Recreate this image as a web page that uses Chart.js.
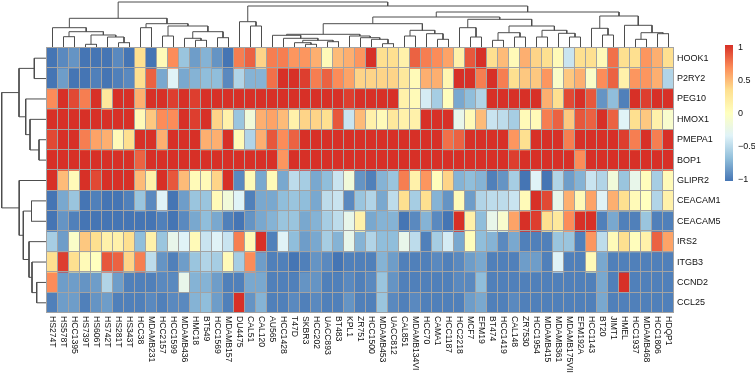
<!DOCTYPE html>
<html>
<head>
<meta charset="utf-8">
<script src="https://cdn.jsdelivr.net/npm/chart.js@4.4.1/dist/chart.umd.min.js"></script>
<style>
html,body{margin:0;padding:0;background:#ffffff;}
canvas{display:block;}
</style>
</head>
<body>
<canvas id="c" width="755" height="373"></canvas>
<script>
// ---------- DATA ----------
const genes = ['HOOK1','P2RY2','PEG10','HMOX1','PMEPA1','BOP1','GLIPR2','CEACAM1','CEACAM5','IRS2','ITGB3','CCND2','CCL25'];
const cellLines = ['HS274T','HS578T','HCC1395','HS739T','HS606T','HS742T','HS281T','HS343T','HCC38','MDAMB231',
  'HCC2157','HCC1599','MDAMB436','HMC18','BT549','HCC1569','MDAMB157','DU4475','CAL51','CAL120',
  'AU565','HCC1428','T47D','SKBR3','HCC202','UACC893','BT483','KPL1','ZR751','HCC1500',
  'MDAMB453','UACC812','CAL851','MDAMB134VI','HCC70','CAMA1','HCC1187','HCC2218','MCF7','EFM19',
  'BT474','HCC1419','CAL148','ZR7530','HCC1954','MDAMB415','MDAMB361','MDAMB175VII','EFM192A','HCC1143',
  'BT20','JIMT1','HMEL','HCC1937','MDAMB468','HCC1806','HDQP1'];
const HOOK1 = [-1,-0.91,-0.86,-1,-1,-1,-0.91,-1,0.33,-1, 0.05,0.67,-0.63,-0.82,-0.72,-0.86,-1,0.72,0.82,0.38,
  0.72,0.72,0.63,0.63,0.53,0.05,0.48,0.53,0.63,1, 0.33,0.33,0.15,0.82,0.72,0.67,0.58,0.15,0.86,1,
  0.33,0.48,0.05,0.53,0.38,0.33,0.05,-0.43,0.33,0.33, 0.05,0.77,0.33,0.33,0.63,0.53,0.33];
const P2RY2 = [-1,-0.82,-1,-1,-0.95,-1,-0.95,-0.91,0.33,0.82, -0.77,-0.33,-0.77,-0.72,-0.67,-0.67,-0.91,-0.53,-0.72,-0.72,
  0.77,1,1,0.95,0.72,0.82,0.67,0.58,0.38,0.38, 0.38,0.38,0.25,0.05,0.53,0.53,0.1,1,1,0.72,
  1,0.72,0.33,0.43,0.43,0.63,-0.05,0.43,0.53,-0.05, 0.67,0.82,0.15,0.63,0.63,0.53,-0.53];
const PEG10 = [0.67,1,0.91,0.72,1,0.25,1,1,0.53,1, 1,0.95,1,0.95,1,1,1,1,1,1,
  1,1,1,1,1,1,1,0.95,1,1, 1,1,0.15,0.05,-0.38,-0.58,0.02,-0.77,-0.67,-0.53,
  1,1,1,1,1,0.53,0.33,0.91,1,0.86, -0.86,-0.67,-0.95,1,0.95,1,1];
const HMOX1 = [1,1,1,1,1,1,1,1,0.05,0.43, 0.67,0.67,1,0.95,1,0.38,0.15,-0.63,-0.15,0.53,
  0.58,0.48,0.15,0.38,0.38,0.33,0.86,-0.43,0.48,0.15, 0.05,0.25,0.15,0.15,1,1,1,-0.25,0.05,0.48,
  -0.43,-0.48,-0.58,0.05,0.05,0.72,0.82,0.43,0.86,0.82, 1,0.82,-0.33,0.33,0.43,0.15,-0.08];
const PMEPA1 = [0.91,1,1,0.72,0.58,0.53,0.05,0.33,1,1, 0.53,1,1,1,0.53,0.53,1,0.05,-0.53,0.53,
  0.86,0.67,0.82,1,1,1,1,1,1,1, 1,1,1,1,1,1,0.77,0.82,1,1,
  1,1,0.63,0.33,1,1,1,0.72,1,1, 1,1,0.95,0.72,1,0.72,1];
const BOP1 = [1,1,1,1,1,1,1,1,0.82,1, 1,1,1,1,1,1,1,1,1,1,
  1,0.63,1,1,1,1,1,1,1,1, 1,1,1,1,1,1,1,1,1,1,
  1,1,0.95,1,1,1,1,1,0.67,1, 1,1,1,1,1,1,1];
const GLIPR2 = [1,0.48,0.05,1,0.91,1,1,1,0.48,0.15, 1,0.86,0.48,0.05,0.05,0.38,1,-0.91,0.05,-0.77,
  0.05,-0.77,-0.48,-0.58,-0.77,-0.67,-0.43,-0.15,-0.86,-0.95, -0.72,-0.63,0.72,0.15,0.63,0.02,0.38,-0.72,-0.67,-0.72,
  -0.95,-0.86,-0.58,-1,-0.33,-1,-0.53,-0.82,-0.72,-0.43, -0.53,-0.15,-0.63,-0.25,0.02,-0.58,0.05];
const CEACAM1 = [-1,-0.77,-0.63,-1,-0.95,-1,-1,-0.95,-0.63,-0.91, -0.33,-1,-0.82,-0.63,-0.63,0.05,-0.15,-0.33,-0.95,-0.77,
  -0.77,-0.67,-0.63,-0.67,-0.77,-0.48,-0.43,-0.91,-0.63,-0.53, -0.77,-0.48,0.33,-0.58,0.33,-0.72,-0.86,0.05,-0.82,-0.53,
  -0.48,-0.48,-0.43,0.05,1,0.91,-0.25,0.53,0.05,0.58, -0.33,0.53,0.33,0.05,0,-0.53,0.15];
const CEACAM5 = [-1,-0.86,-0.95,-1,-1,-1,-1,-1,-1,-1, -0.95,-1,-0.91,-0.77,-0.67,-0.77,-0.95,-1,-0.86,-0.77,
  -0.72,-0.63,-0.63,-0.77,-0.72,-0.58,-0.48,-0.25,0.15,-0.77, -0.72,-0.72,-1,-0.91,-0.72,-0.91,-1,1,0.15,-0.67,
  -0.25,-0.08,0.58,1,0.95,0.33,0.25,0.67,1,1, -0.95,-0.77,-0.95,-0.95,-0.63,-0.95,-0.95];
const IRS2 = [-0.58,-0.82,-0.05,0.43,0.33,0.15,0.15,0.33,-0.67,0.15, -0.63,-0.25,-0.33,0.05,-0.43,-0.33,-0.43,0.72,0.05,1,
  -0.95,-0.33,-0.67,-0.82,-0.77,-0.58,-0.72,-0.25,-0.72,-0.53, -0.67,-0.67,-0.25,-0.48,-0.95,-0.58,-0.38,-0.77,0.02,-0.67,
  -0.72,-0.91,-0.77,-0.95,-0.95,-0.95,-0.63,-0.63,-0.95,0.63, -0.48,0.05,0.33,0.02,0.15,0.82,0.58];
const ITGB3 = [0.33,0.95,0.33,0.05,0,0.86,0.82,0.38,0.72,-0.48, -0.86,-0.95,-0.82,-0.63,-0.53,-0.58,0.05,-0.58,0.67,-0.82,
  -0.95,-0.95,-1,-0.95,-0.86,-0.91,-1,-0.95,-0.95,-0.95, -0.72,-0.82,-0.95,-0.95,-0.95,-0.91,-0.95,-0.91,-0.82,-0.77,
  -0.95,-0.95,-0.95,-0.82,-0.82,-0.95,-0.33,-0.95,-0.95,0.05, -0.77,-0.95,-0.95,-0.95,-0.95,-0.95,-0.95];
const CCND2 = [0.67,-0.82,-0.82,-0.86,-0.82,-0.53,-0.82,-0.95,-0.95,-0.95, -0.91,-0.91,-0.25,-0.72,-0.72,-0.82,-0.95,-0.95,-0.77,-0.77,
  -0.95,-0.95,-0.95,-0.86,-0.86,-0.95,-0.95,-0.91,-0.95,-0.91, -0.63,-0.86,-0.95,-0.95,-0.95,-0.95,-0.95,-0.91,-0.91,-0.67,
  -0.95,-0.95,-0.95,-0.95,-0.95,-0.95,-0.95,-0.95,-0.95,-0.95, -0.77,-0.95,1,-0.95,-0.95,-0.95,-0.95];
const CCL25 = [-0.95,-0.82,-0.82,-0.95,-0.86,-0.82,-0.95,-0.95,-0.95,-0.91, -0.95,-0.91,-0.91,-0.72,-0.67,-0.82,-0.95,1,-0.86,-0.72,
  -0.95,-0.95,-0.91,-0.95,-0.91,-0.95,-0.95,-0.86,-0.95,-0.95, -0.63,-0.91,-0.95,-0.91,-0.95,-0.95,-0.95,-0.95,-0.82,-0.77,
  -0.95,-0.95,-0.91,-0.95,-0.95,-0.95,-0.95,-0.95,-0.95,-0.95, -0.77,-0.95,-0.95,-0.95,-0.95,-0.95,-0.95];
const heatValues = [HOOK1,P2RY2,PEG10,HMOX1,PMEPA1,BOP1,GLIPR2,CEACAM1,CEACAM5,IRS2,ITGB3,CCND2,CCL25];

// hierarchical clustering merges [left, right, height]; ids >= n refer to earlier merges
const colMerges = [
  [23,24,3.7],[22,57,5.3],[25,26,6.3],[58,59,7.7],[21,60,9.7],[20,61,12.7],
  [30,31,4.3],[29,63,8.7],[28,64,10.3],[27,65,12],[62,66,13.7],
  [32,33,12],[35,36,8.7],[34,69,14.3],[68,70,17.7],[67,71,24.3],
  [38,39,11],[37,73,20.3],[40,41,7.7],[42,43,11],[75,76,15.3],[44,45,11],[47,48,11],[46,79,14.7],[78,80,17.7],[77,81,22],[74,82,28.7],
  [72,83,31],
  [50,51,13],[49,85,19.7],[53,54,8.7],[55,56,14.3],[87,88,15.3],[52,89,22.7],[86,90,32],
  [84,91,36],
  [18,19,22],[17,93,26.3],[94,92,42],
  [1,2,11.3],[3,4,3.7],[6,7,5.3],[5,98,11],[97,99,13],[96,100,16.3],[0,101,20.3],
  [8,9,20.3],[10,11,12],[13,14,7.7],[12,105,9.7],[15,16,10.3],[106,107,16.3],[104,108,22],[103,109,24.3],
  [102,110,29.7],
  [111,95,46]
];
const rowMerges = [
  [0,1,12.7],[4,5,8],[3,14,17],[2,15,21.3],[13,16,28],
  [11,12,10.3],[10,18,15],[9,19,18],[7,8,15.5],[21,20,23.7],[6,22,27.8],
  [17,23,45.3]
];
const legendTicks = [1, 0.5, 0, -0.5, -1];
const legendLabels = ['1', '0.5', '0', '\u22120.5', '\u22121'];

// ---------- COLOURS ----------
const palette = ['#4575B4','#91BFDB','#E0F3F8','#FFFFBF','#FEE090','#FC8D59','#D73027'];
const palRGB = palette.map(h => [parseInt(h.slice(1,3),16), parseInt(h.slice(3,5),16), parseInt(h.slice(5,7),16)]);
function colorFor(v) {
  const t = (Math.max(-1, Math.min(1, v)) + 1) / 2 * (palRGB.length - 1);
  const i = Math.min(Math.floor(t), palRGB.length - 2);
  const f = t - i;
  const a = palRGB[i], b = palRGB[i + 1];
  return 'rgb(' + [0,1,2].map(k => Math.round(a[k] + (b[k] - a[k]) * f)).join(',') + ')';
}

// ---------- DENDROGRAM SEGMENTS ----------
function buildTree(merges, n, leafPos) {
  const pos = [], ht = [];
  for (let i = 0; i < n; i++) { pos[i] = leafPos(i); ht[i] = 0; }
  return merges.map(([a, b, h], k) => {
    const id = n + k;
    pos[id] = (pos[a] + pos[b]) / 2; ht[id] = h;
    return [[pos[a], ht[a]], [pos[a], h], [pos[b], h], [pos[b], ht[b]]];
  });
}
const colSegs = buildTree(colMerges, cellLines.length, i => i);
const rowSegs = buildTree(rowMerges, genes.length, i => i + 0.5);

const TREE_COLOR = '#4d4d4d';
const lineStyle = { borderColor: TREE_COLOR, borderWidth: 1, pointRadius: 0, pointHoverRadius: 0, fill: false, tension: 0, clip: false };
const datasets = [];
colSegs.forEach((seg, k) => {
  datasets.push(Object.assign({ type: 'line', stack: 'c' + k, xAxisID: 'xd', yAxisID: 'yd',
    data: seg.map(([p, h]) => ({x: p, y: h})) }, lineStyle));
});
rowSegs.forEach((seg, k) => {
  datasets.push(Object.assign({ type: 'line', stack: 'r' + k, xAxisID: 'xr', yAxisID: 'yr',
    data: seg.map(([p, h]) => ({x: h, y: p})) }, lineStyle));
});
heatValues.forEach((vals, r) => {
  datasets.push({
    type: 'bar', label: genes[r], stack: 'heat',
    data: cellLines.map(() => 1),
    backgroundColor: vals.map(colorFor),
    borderWidth: 0, barPercentage: 1, categoryPercentage: 1, grouped: false,
    xAxisID: 'x', yAxisID: 'y'
  });
});

// ---------- LABELS / GRID / LEGEND ----------
const FONT = '"Liberation Sans", Arial, Helvetica, sans-serif';
const decorPlugin = {
  id: 'decor',
  afterDatasetsDraw(chart) {
    const ctx = chart.ctx, a = chart.chartArea;
    const xs = chart.scales.x, ys = chart.scales.y;
    ctx.save();
    ctx.strokeStyle = '#a3a3a3';
    ctx.lineWidth = 1;
    ctx.beginPath();
    for (let i = 0; i <= cellLines.length; i++) {
      const x = Math.round(xs.getPixelForValue(i - 0.5)) - 0.5;
      ctx.moveTo(x, a.top - 0.5); ctx.lineTo(x, a.bottom - 0.5);
    }
    for (let r = 0; r <= genes.length; r++) {
      const y = Math.round(ys.getPixelForValue(r)) - 0.5;
      ctx.moveTo(a.left - 1, y); ctx.lineTo(a.right, y);
    }
    ctx.stroke();
    ctx.restore();
  },
  afterDraw(chart) {
    const ctx = chart.ctx, a = chart.chartArea;
    const xs = chart.scales.x, yr = chart.scales.yr;
    ctx.save();
    ctx.fillStyle = '#111111';
    ctx.font = '8.6px ' + FONT;
    ctx.textAlign = 'left';
    ctx.textBaseline = 'middle';
    cellLines.forEach((lab, i) => {
      const x = xs.getPixelForValue(i);
      ctx.save();
      ctx.translate(x, a.bottom + 3);
      ctx.rotate(Math.PI / 2);
      ctx.fillText(lab, 0, 0.5);
      ctx.restore();
    });
    ctx.font = '9px ' + FONT;
    genes.forEach((g, r) => {
      ctx.fillText(g, a.right + 3, yr.getPixelForValue(r + 0.5));
    });
    const lx = 725, lw = 8, ltop = 45, lbot = 181;
    const grad = ctx.createLinearGradient(0, lbot, 0, ltop);
    palette.forEach((c, k) => grad.addColorStop(k / (palette.length - 1), c));
    ctx.fillStyle = grad;
    ctx.fillRect(lx, ltop, lw, lbot - ltop);
    ctx.fillStyle = '#111111';
    const yTop = 47.3, yBot = 179.3;
    legendTicks.forEach((v, k) => {
      const y = yBot - (v + 1) / 2 * (yBot - yTop);
      ctx.fillText(legendLabels[k], lx + lw + 5, y);
    });
    ctx.restore();
  }
};

new Chart(document.getElementById('c'), {
  type: 'bar',
  data: { labels: cellLines, datasets },
  options: {
    responsive: false, animation: false, events: [],
    layout: { padding: { left: 47, top: 48, right: 81, bottom: 60 } },
    plugins: { legend: { display: false }, tooltip: { enabled: false } },
    scales: {
      x: { type: 'category', stacked: true, offset: true, display: false },
      y: { type: 'linear', stacked: true, min: 0, max: genes.length, reverse: true, display: false },
      xd: { type: 'linear', axis: 'x', offset: false, stacked: false, min: -0.5, max: cellLines.length - 0.5, display: false },
      yd: { type: 'linear', axis: 'y', offset: false, stacked: false, min: -265, max: 0, display: false },
      xr: { type: 'linear', axis: 'x', offset: false, stacked: false, min: -627, max: 0, reverse: true, display: false },
      yr: { type: 'linear', axis: 'y', offset: false, stacked: false, min: 0, max: genes.length, reverse: true, display: false }
    }
  },
  plugins: [decorPlugin]
});
</script>
</body>
</html>
